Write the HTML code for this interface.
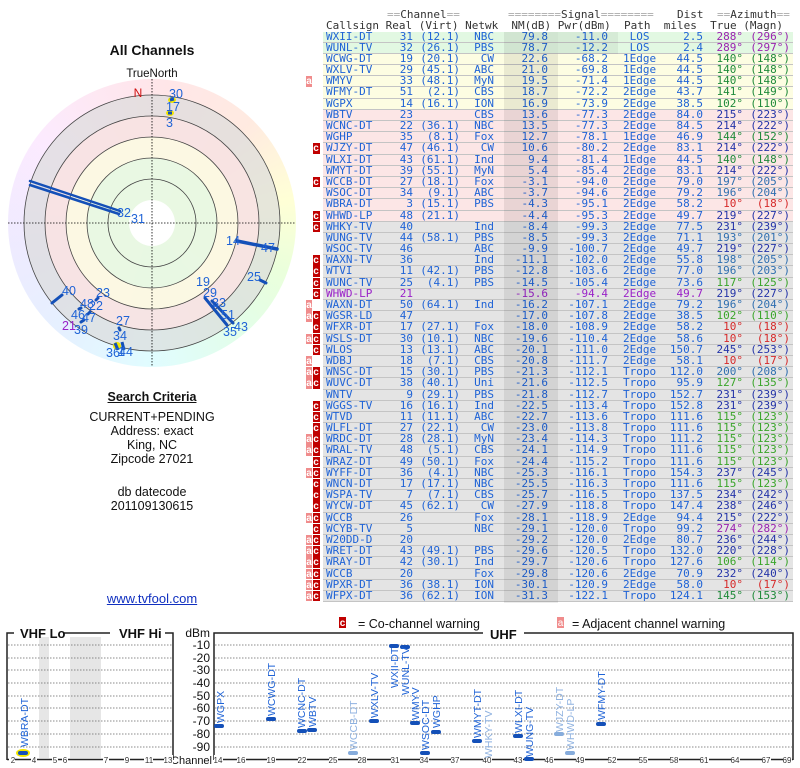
<!DOCTYPE html>
<html><head><meta charset="utf-8"><style>
body{margin:0;width:800px;height:768px;background:#fff;position:relative;overflow:hidden;font-family:"Liberation Sans",sans-serif}
.abs{position:absolute}
.hdr{position:absolute;font:11px "DejaVu Sans Mono",monospace;color:#333;white-space:pre;line-height:11px}
.hdr .q{color:#aaa}
.tbl{position:absolute;left:323px;top:31.5px;width:470px;font:11px "DejaVu Sans Mono",monospace;color:#1f63d6}
.tbl>div{position:relative;height:11.2px;box-sizing:border-box;border-bottom:1px solid #c4c4c4}
.tbl i{font-style:normal;position:absolute;top:0;line-height:10.5px;white-space:nowrap}
.tbl i:nth-of-type(1){left:3px}.tbl i:nth-of-type(2){right:380px}.tbl i:nth-of-type(3){right:333px}
.tbl i:nth-of-type(4){right:299px}.tbl i:nth-of-type(5){right:245px}.tbl i:nth-of-type(6){right:185px}
.tbl i:nth-of-type(7){left:300px}.tbl i:nth-of-type(8){right:90px}.tbl i:nth-of-type(9){right:50px}.tbl i:nth-of-type(10){right:3px}
.gr{background:#e2f8e2}.ye{background:#fdfde2}.pk{background:#fce6e6}.gy{background:#e4e4e4}
.P i:nth-of-type(n+9){color:#9a22b0}.G i:nth-of-type(n+9){color:#1f8a3a}.L i:nth-of-type(n+9){color:#3aa52a}
.N i:nth-of-type(n+9){color:#2434a8}.T i:nth-of-type(n+9){color:#2f6fb0}.R i:nth-of-type(n+9){color:#d62a2a}
.pu i{color:#9a22c8}
.tbl b{position:absolute;top:0;height:10.5px;line-height:10px;font:bold 10px "Liberation Sans",sans-serif;color:#fff;text-align:center}
.tbl b.a{left:-17px;width:6px;background:#f08c8c}.tbl b.c{left:-10.5px;width:7px;background:#c00000}
.lp{position:absolute;width:300px;text-align:center;font-size:12.5px;color:#111}
</style></head><body>

<div class="hdr" style="left:387px;top:9px"><span class="q">==</span>Channel<span class="q">==</span></div>
<div class="hdr" style="left:508px;top:9px"><span class="q">========</span>Signal<span class="q">========</span></div>
<div class="hdr" style="left:677px;top:9px">Dist</div>
<div class="hdr" style="left:717px;top:9px"><span class="q">==</span>Azimuth<span class="q">==</span></div>
<div class="hdr" style="left:326px;top:20px">Callsign Real (Virt) Netwk  NM(dB) Pwr(dBm)  Path  miles  True (Magn)</div>

<div class="tbl">
<div class="gr P"><i>WXII-DT</i><i>31</i><i>(12.1)</i><i>NBC</i><i>79.8</i><i>-11.0</i><i>&nbsp;LOS</i><i>2.5</i><i>288°</i><i>(296°)</i></div>
<div class="gr P"><i>WUNL-TV</i><i>32</i><i>(26.1)</i><i>PBS</i><i>78.7</i><i>-12.2</i><i>&nbsp;LOS</i><i>2.4</i><i>289°</i><i>(297°)</i></div>
<div class="ye G"><i>WCWG-DT</i><i>19</i><i>(20.1)</i><i>CW</i><i>22.6</i><i>-68.2</i><i>1Edge</i><i>44.5</i><i>140°</i><i>(148°)</i></div>
<div class="ye G"><i>WXLV-TV</i><i>29</i><i>(45.1)</i><i>ABC</i><i>21.0</i><i>-69.8</i><i>1Edge</i><i>44.5</i><i>140°</i><i>(148°)</i></div>
<div class="ye G"><b class="a">a</b><i>WMYV</i><i>33</i><i>(48.1)</i><i>MyN</i><i>19.5</i><i>-71.4</i><i>1Edge</i><i>44.5</i><i>140°</i><i>(148°)</i></div>
<div class="ye G"><i>WFMY-DT</i><i>51</i><i>(2.1)</i><i>CBS</i><i>18.7</i><i>-72.2</i><i>2Edge</i><i>43.7</i><i>141°</i><i>(149°)</i></div>
<div class="ye G"><i>WGPX</i><i>14</i><i>(16.1)</i><i>ION</i><i>16.9</i><i>-73.9</i><i>2Edge</i><i>38.5</i><i>102°</i><i>(110°)</i></div>
<div class="pk N"><i>WBTV</i><i>23</i><i></i><i>CBS</i><i>13.6</i><i>-77.3</i><i>2Edge</i><i>84.0</i><i>215°</i><i>(223°)</i></div>
<div class="pk N"><i>WCNC-DT</i><i>22</i><i>(36.1)</i><i>NBC</i><i>13.5</i><i>-77.3</i><i>2Edge</i><i>84.5</i><i>214°</i><i>(222°)</i></div>
<div class="pk G"><i>WGHP</i><i>35</i><i>(8.1)</i><i>Fox</i><i>12.7</i><i>-78.1</i><i>1Edge</i><i>46.9</i><i>144°</i><i>(152°)</i></div>
<div class="pk N"><b class="c">c</b><i>WJZY-DT</i><i>47</i><i>(46.1)</i><i>CW</i><i>10.6</i><i>-80.2</i><i>2Edge</i><i>83.1</i><i>214°</i><i>(222°)</i></div>
<div class="pk G"><i>WLXI-DT</i><i>43</i><i>(61.1)</i><i>Ind</i><i>9.4</i><i>-81.4</i><i>1Edge</i><i>44.5</i><i>140°</i><i>(148°)</i></div>
<div class="pk N"><i>WMYT-DT</i><i>39</i><i>(55.1)</i><i>MyN</i><i>5.4</i><i>-85.4</i><i>2Edge</i><i>83.1</i><i>214°</i><i>(222°)</i></div>
<div class="pk T"><b class="c">c</b><i>WCCB-DT</i><i>27</i><i>(18.1)</i><i>Fox</i><i>-3.1</i><i>-94.0</i><i>2Edge</i><i>79.0</i><i>197°</i><i>(205°)</i></div>
<div class="pk T"><i>WSOC-DT</i><i>34</i><i>(9.1)</i><i>ABC</i><i>-3.7</i><i>-94.6</i><i>2Edge</i><i>79.2</i><i>196°</i><i>(204°)</i></div>
<div class="pk R"><i>WBRA-DT</i><i>3</i><i>(15.1)</i><i>PBS</i><i>-4.3</i><i>-95.1</i><i>2Edge</i><i>58.2</i><i>10°</i><i>(18°)</i></div>
<div class="pk N"><b class="c">c</b><i>WHWD-LP</i><i>48</i><i>(21.1)</i><i></i><i>-4.4</i><i>-95.3</i><i>2Edge</i><i>49.7</i><i>219°</i><i>(227°)</i></div>
<div class="gy N"><b class="c">c</b><i>WHKY-TV</i><i>40</i><i></i><i>Ind</i><i>-8.4</i><i>-99.3</i><i>2Edge</i><i>77.5</i><i>231°</i><i>(239°)</i></div>
<div class="gy T"><i>WUNG-TV</i><i>44</i><i>(58.1)</i><i>PBS</i><i>-8.5</i><i>-99.3</i><i>2Edge</i><i>71.1</i><i>193°</i><i>(201°)</i></div>
<div class="gy N"><i>WSOC-TV</i><i>46</i><i></i><i>ABC</i><i>-9.9</i><i>-100.7</i><i>2Edge</i><i>49.7</i><i>219°</i><i>(227°)</i></div>
<div class="gy T"><b class="c">c</b><i>WAXN-TV</i><i>36</i><i></i><i>Ind</i><i>-11.1</i><i>-102.0</i><i>2Edge</i><i>55.8</i><i>198°</i><i>(205°)</i></div>
<div class="gy T"><b class="c">c</b><i>WTVI</i><i>11</i><i>(42.1)</i><i>PBS</i><i>-12.8</i><i>-103.6</i><i>2Edge</i><i>77.0</i><i>196°</i><i>(203°)</i></div>
<div class="gy L"><b class="c">c</b><i>WUNC-TV</i><i>25</i><i>(4.1)</i><i>PBS</i><i>-14.5</i><i>-105.4</i><i>2Edge</i><i>73.6</i><i>117°</i><i>(125°)</i></div>
<div class="gy pu N"><b class="c">c</b><i>WHWD-LP</i><i>21</i><i></i><i></i><i>-15.6</i><i>-94.4</i><i>2Edge</i><i>49.7</i><i>219°</i><i>(227°)</i></div>
<div class="gy T"><b class="a">a</b><i>WAXN-DT</i><i>50</i><i>(64.1)</i><i>Ind</i><i>-16.2</i><i>-107.1</i><i>2Edge</i><i>79.2</i><i>196°</i><i>(204°)</i></div>
<div class="gy L"><b class="a">a</b><b class="c">c</b><i>WGSR-LD</i><i>47</i><i></i><i></i><i>-17.0</i><i>-107.8</i><i>2Edge</i><i>38.5</i><i>102°</i><i>(110°)</i></div>
<div class="gy R"><b class="c">c</b><i>WFXR-DT</i><i>17</i><i>(27.1)</i><i>Fox</i><i>-18.0</i><i>-108.9</i><i>2Edge</i><i>58.2</i><i>10°</i><i>(18°)</i></div>
<div class="gy R"><b class="a">a</b><b class="c">c</b><i>WSLS-DT</i><i>30</i><i>(10.1)</i><i>NBC</i><i>-19.6</i><i>-110.4</i><i>2Edge</i><i>58.6</i><i>10°</i><i>(18°)</i></div>
<div class="gy N"><b class="c">c</b><i>WLOS</i><i>13</i><i>(13.1)</i><i>ABC</i><i>-20.1</i><i>-111.0</i><i>2Edge</i><i>150.7</i><i>245°</i><i>(253°)</i></div>
<div class="gy R"><b class="a">a</b><i>WDBJ</i><i>18</i><i>(7.1)</i><i>CBS</i><i>-20.8</i><i>-111.7</i><i>2Edge</i><i>58.1</i><i>10°</i><i>(17°)</i></div>
<div class="gy T"><b class="a">a</b><b class="c">c</b><i>WNSC-DT</i><i>15</i><i>(30.1)</i><i>PBS</i><i>-21.3</i><i>-112.1</i><i>Tropo</i><i>112.0</i><i>200°</i><i>(208°)</i></div>
<div class="gy L"><b class="a">a</b><b class="c">c</b><i>WUVC-DT</i><i>38</i><i>(40.1)</i><i>Uni</i><i>-21.6</i><i>-112.5</i><i>Tropo</i><i>95.9</i><i>127°</i><i>(135°)</i></div>
<div class="gy N"><i>WNTV</i><i>9</i><i>(29.1)</i><i>PBS</i><i>-21.8</i><i>-112.7</i><i>Tropo</i><i>152.7</i><i>231°</i><i>(239°)</i></div>
<div class="gy N"><b class="c">c</b><i>WGGS-TV</i><i>16</i><i>(16.1)</i><i>Ind</i><i>-22.5</i><i>-113.4</i><i>Tropo</i><i>152.8</i><i>231°</i><i>(239°)</i></div>
<div class="gy L"><b class="c">c</b><i>WTVD</i><i>11</i><i>(11.1)</i><i>ABC</i><i>-22.7</i><i>-113.6</i><i>Tropo</i><i>111.6</i><i>115°</i><i>(123°)</i></div>
<div class="gy L"><b class="c">c</b><i>WLFL-DT</i><i>27</i><i>(22.1)</i><i>CW</i><i>-23.0</i><i>-113.8</i><i>Tropo</i><i>111.6</i><i>115°</i><i>(123°)</i></div>
<div class="gy L"><b class="a">a</b><b class="c">c</b><i>WRDC-DT</i><i>28</i><i>(28.1)</i><i>MyN</i><i>-23.4</i><i>-114.3</i><i>Tropo</i><i>111.2</i><i>115°</i><i>(123°)</i></div>
<div class="gy L"><b class="a">a</b><b class="c">c</b><i>WRAL-TV</i><i>48</i><i>(5.1)</i><i>CBS</i><i>-24.1</i><i>-114.9</i><i>Tropo</i><i>111.6</i><i>115°</i><i>(123°)</i></div>
<div class="gy L"><b class="c">c</b><i>WRAZ-DT</i><i>49</i><i>(50.1)</i><i>Fox</i><i>-24.4</i><i>-115.2</i><i>Tropo</i><i>111.6</i><i>115°</i><i>(123°)</i></div>
<div class="gy N"><b class="a">a</b><b class="c">c</b><i>WYFF-DT</i><i>36</i><i>(4.1)</i><i>NBC</i><i>-25.3</i><i>-116.1</i><i>Tropo</i><i>154.3</i><i>237°</i><i>(245°)</i></div>
<div class="gy L"><b class="c">c</b><i>WNCN-DT</i><i>17</i><i>(17.1)</i><i>NBC</i><i>-25.5</i><i>-116.3</i><i>Tropo</i><i>111.6</i><i>115°</i><i>(123°)</i></div>
<div class="gy N"><b class="c">c</b><i>WSPA-TV</i><i>7</i><i>(7.1)</i><i>CBS</i><i>-25.7</i><i>-116.5</i><i>Tropo</i><i>137.5</i><i>234°</i><i>(242°)</i></div>
<div class="gy N"><b class="c">c</b><i>WYCW-DT</i><i>45</i><i>(62.1)</i><i>CW</i><i>-27.9</i><i>-118.8</i><i>Tropo</i><i>147.4</i><i>238°</i><i>(246°)</i></div>
<div class="gy N"><b class="a">a</b><b class="c">c</b><i>WCCB</i><i>26</i><i></i><i>Fox</i><i>-28.1</i><i>-118.9</i><i>2Edge</i><i>94.4</i><i>215°</i><i>(222°)</i></div>
<div class="gy P"><b class="c">c</b><i>WCYB-TV</i><i>5</i><i></i><i>NBC</i><i>-29.1</i><i>-120.0</i><i>Tropo</i><i>99.2</i><i>274°</i><i>(282°)</i></div>
<div class="gy N"><b class="a">a</b><b class="c">c</b><i>W20DD-D</i><i>20</i><i></i><i></i><i>-29.2</i><i>-120.0</i><i>2Edge</i><i>80.7</i><i>236°</i><i>(244°)</i></div>
<div class="gy N"><b class="a">a</b><b class="c">c</b><i>WRET-DT</i><i>43</i><i>(49.1)</i><i>PBS</i><i>-29.6</i><i>-120.5</i><i>Tropo</i><i>132.0</i><i>220°</i><i>(228°)</i></div>
<div class="gy L"><b class="a">a</b><b class="c">c</b><i>WRAY-DT</i><i>42</i><i>(30.1)</i><i>Ind</i><i>-29.7</i><i>-120.6</i><i>Tropo</i><i>127.6</i><i>106°</i><i>(114°)</i></div>
<div class="gy N"><b class="a">a</b><b class="c">c</b><i>WCCB</i><i>20</i><i></i><i>Fox</i><i>-29.8</i><i>-120.6</i><i>2Edge</i><i>70.9</i><i>232°</i><i>(240°)</i></div>
<div class="gy R"><b class="a">a</b><b class="c">c</b><i>WPXR-DT</i><i>36</i><i>(38.1)</i><i>ION</i><i>-30.1</i><i>-120.9</i><i>2Edge</i><i>58.0</i><i>10°</i><i>(17°)</i></div>
<div class="gy G"><b class="a">a</b><b class="c">c</b><i>WFPX-DT</i><i>36</i><i>(62.1)</i><i>ION</i><i>-31.3</i><i>-122.1</i><i>Tropo</i><i>124.1</i><i>145°</i><i>(153°)</i></div>
</div>
<div class="abs" style="left:504px;top:31.5px;width:54px;height:571px;background:rgba(0,0,0,.075)"></div>
<div class="abs" style="left:558px;top:31.5px;width:60px;height:22.4px;background:rgba(0,0,0,.05)"></div>

<div class="lp" style="left:2px;top:42px;font-weight:bold;font-size:14px">All Channels</div>
<div class="lp" style="left:2px;top:68px;font-size:11.5px">TrueNorth</div>
<div class="abs" style="left:8px;top:79px;width:288px;height:288px;border-radius:50%;background:conic-gradient(hsl(350,100%,95%),hsl(20,100%,94%) 45deg,hsl(60,100%,92%) 80deg,hsl(95,100%,93%) 110deg,hsl(140,90%,94%) 145deg,hsl(185,100%,94%) 180deg,hsl(215,100%,95%) 220deg,hsl(250,100%,96%) 260deg,hsl(290,100%,96%) 305deg,hsl(350,100%,95%))"></div>
<svg class="abs" style="left:0;top:0" width="800" height="768">
<g transform="translate(152,223)">
<circle r="128" fill="#dcdcdc" fill-opacity=".7"/>
<circle r="107" fill="#fde4e4" fill-opacity=".8"/>
<circle r="86" fill="#fcfce2" fill-opacity=".8"/>
<circle r="65" fill="#e4f8e2" fill-opacity=".8"/>
<circle r="23" fill="#fff"/>
<g fill="none" stroke="#444" stroke-width="0.8">
<circle r="128"/><circle r="107"/><circle r="86"/><circle r="65"/><circle r="44"/></g>
<g stroke="#000" stroke-width="0.8" stroke-dasharray="1.5,1.5"><line x1="-144" y1="0" x2="144" y2="0"/><line x1="0" y1="-144" x2="0" y2="144"/></g>
</g>
<text x="138" y="97" fill="#d01010" font-size="12" text-anchor="middle">N</text>
<g stroke="#1450b8" stroke-linecap="round">
<line x1="120" y1="211" x2="30" y2="181" stroke-width="2.5"/><line x1="119" y1="214" x2="30" y2="185" stroke-width="2.5"/>
<line x1="237" y1="241" x2="277" y2="249" stroke-width="3.5"/>
<line x1="260" y1="280" x2="266" y2="283" stroke-width="3"/>
<line x1="205" y1="298" x2="227" y2="325" stroke-width="3"/><line x1="212" y1="301" x2="233" y2="323" stroke-width="3"/>
<line x1="52" y1="303" x2="62" y2="295" stroke-width="3"/>
<line x1="96" y1="300" x2="98" y2="298" stroke-width="3"/><line x1="79" y1="309" x2="81" y2="308" stroke-width="3"/>
<line x1="88" y1="314" x2="90" y2="312" stroke-width="3"/><line x1="81" y1="322" x2="84" y2="320" stroke-width="3"/>
<line x1="119" y1="328" x2="120" y2="330" stroke-width="3"/>
</g>
<ellipse cx="172" cy="100" rx="4" ry="3" fill="#f2e600"/><ellipse cx="170" cy="113" rx="4" ry="3" fill="#f2e600"/>
<ellipse cx="117" cy="346" rx="4" ry="4" fill="#f2e600"/>
<g stroke="#1450b8" stroke-width="3"><line x1="170" y1="100" x2="174" y2="99"/><line x1="168" y1="113" x2="172" y2="113"/><line x1="115" y1="343" x2="118" y2="350"/><line x1="122" y1="342" x2="124" y2="350"/></g>
<g fill="#1f63d6" font-size="12.5" font-family="Liberation Sans,sans-serif">
<text x="169" y="98">30</text><text x="166" y="111">17</text><text x="166" y="127">3</text>
<text x="117" y="217">32</text><text x="131" y="223">31</text>
<text x="226" y="245">14</text><text x="261" y="252">47</text><text x="247" y="281">25</text>
<text x="196" y="286">19</text><text x="203" y="297">29</text><text x="212" y="307">33</text><text x="221" y="319">51</text>
<text x="223" y="336">35</text><text x="234" y="331">43</text>
<text x="62" y="295">40</text><text x="96" y="297">23</text><text x="80" y="308">48</text><text x="89" y="310">22</text>
<text x="71" y="319">46</text><text x="82" y="322">47</text><text x="74" y="334">39</text>
<text x="116" y="325">27</text><text x="113" y="340">34</text><text x="106" y="357">36</text><text x="118" y="356">1</text><text x="119" y="356">44</text>
</g>
<text x="62" y="330" fill="#9a22c8" font-size="12.5">21</text>

<g font-family="Liberation Sans,sans-serif">
<rect x="339" y="617" width="7" height="11" fill="#c00000"/><text x="342.5" y="626" fill="#fff" font-size="10" font-weight="bold" text-anchor="middle">c</text>
<text x="358" y="628" font-size="12.5" fill="#111">= Co-channel warning</text>
<rect x="557" y="617" width="7" height="11" fill="#f08c8c"/><text x="560.5" y="626" fill="#fff" font-size="10" text-anchor="middle">a</text>
<text x="572" y="628" font-size="12.5" fill="#111">= Adjacent channel warning</text>

<rect x="39" y="637" width="10" height="121" fill="#e6e6e6"/><rect x="70" y="637" width="31" height="121" fill="#e6e6e6"/>
<g stroke="#666" stroke-width="0.8" stroke-dasharray="1.5,1.5">
<line x1="8" x2="172" y1="645" y2="645"/><line x1="8" x2="172" y1="658" y2="658"/><line x1="8" x2="172" y1="670" y2="670"/>
<line x1="8" x2="172" y1="683" y2="683"/><line x1="8" x2="172" y1="696" y2="696"/><line x1="8" x2="172" y1="708" y2="708"/>
<line x1="8" x2="172" y1="721" y2="721"/><line x1="8" x2="172" y1="734" y2="734"/><line x1="8" x2="172" y1="747" y2="747"/>
<line x1="215" x2="792" y1="645" y2="645"/><line x1="215" x2="792" y1="658" y2="658"/><line x1="215" x2="792" y1="670" y2="670"/>
<line x1="215" x2="792" y1="683" y2="683"/><line x1="215" x2="792" y1="696" y2="696"/><line x1="215" x2="792" y1="708" y2="708"/>
<line x1="215" x2="792" y1="721" y2="721"/><line x1="215" x2="792" y1="734" y2="734"/><line x1="215" x2="792" y1="747" y2="747"/>
</g>
<g stroke="#222" stroke-width="1.5" fill="none">
<polyline points="14,633 7,633 7,760"/><line x1="64" y1="633" x2="110" y2="633"/><polyline points="165,633 173,633 173,760"/>
<polyline points="483,633 214,633 214,760"/><polyline points="524,633 793,633 793,760"/>
<line x1="7" y1="759.5" x2="173" y2="759.5"/><line x1="214" y1="759.5" x2="793" y2="759.5"/>
</g>
<text x="20" y="638" font-size="13" font-weight="bold" fill="#111">VHF Lo</text>
<text x="119" y="638" font-size="13" font-weight="bold" fill="#111">VHF Hi</text>
<text x="490" y="639" font-size="13" font-weight="bold" fill="#111">UHF</text>
<g font-size="12" fill="#111" text-anchor="end">
<text x="210" y="637">dBm</text><text x="210" y="649">-10</text><text x="210" y="662">-20</text><text x="210" y="674">-30</text>
<text x="210" y="687">-40</text><text x="210" y="700">-50</text><text x="210" y="712">-60</text><text x="210" y="725">-70</text>
<text x="210" y="738">-80</text><text x="210" y="751">-90</text><text x="212" y="764" font-size="11">Channel</text>
</g>
<g font-size="8" fill="#333" text-anchor="middle">
<g fill="#fff" stroke="none"><rect x="9" y="755" width="6" height="9"/><rect x="31" y="755" width="6" height="9"/><rect x="52" y="755" width="6" height="9"/><rect x="62" y="755" width="6" height="9"/><rect x="103" y="755" width="6" height="9"/><rect x="124" y="755" width="6" height="9"/><rect x="144" y="755" width="9" height="9"/><rect x="164" y="755" width="9" height="9"/></g>
<text x="13" y="763">2</text><text x="34" y="763">4</text><text x="55" y="763">5</text><text x="65" y="763">6</text><text x="106" y="763">7</text><text x="127" y="763">9</text><text x="149" y="763">11</text><text x="168" y="763">13</text>
<g fill="#fff"><rect x="214" y="755" width="9" height="9"/><rect x="237" y="755" width="9" height="9"/><rect x="267" y="755" width="9" height="9"/><rect x="298" y="755" width="9" height="9"/><rect x="329" y="755" width="9" height="9"/><rect x="358" y="755" width="9" height="9"/><rect x="391" y="755" width="9" height="9"/><rect x="420" y="755" width="9" height="9"/><rect x="451" y="755" width="9" height="9"/><rect x="483" y="755" width="9" height="9"/><rect x="514" y="755" width="9" height="9"/><rect x="545" y="755" width="9" height="9"/><rect x="576" y="755" width="9" height="9"/><rect x="608" y="755" width="9" height="9"/><rect x="639" y="755" width="9" height="9"/><rect x="670" y="755" width="9" height="9"/><rect x="700" y="755" width="9" height="9"/><rect x="731" y="755" width="9" height="9"/><rect x="762" y="755" width="9" height="9"/><rect x="783" y="755" width="9" height="9"/></g>
<text x="218" y="763">14</text><text x="241" y="763">16</text><text x="271" y="763">19</text><text x="302" y="763">22</text><text x="333" y="763">25</text><text x="362" y="763">28</text><text x="395" y="763">31</text><text x="424" y="763">34</text><text x="455" y="763">37</text><text x="487" y="763">40</text><text x="518" y="763">43</text><text x="549" y="763">46</text><text x="580" y="763">49</text><text x="612" y="763">52</text><text x="643" y="763">55</text><text x="674" y="763">58</text><text x="704" y="763">61</text><text x="735" y="763">64</text><text x="766" y="763">67</text><text x="787" y="763">69</text>
</g>
<ellipse cx="23" cy="753" rx="7" ry="4" fill="#f2e600"/>
<g fill="#1450b8">
<rect x="18" y="751" width="10" height="4" rx="2"/><rect x="214" y="724" width="10" height="4" rx="2"/><rect x="266" y="717" width="10" height="4" rx="2"/>
<rect x="297" y="729" width="10" height="4" rx="2"/><rect x="307" y="728" width="10" height="4" rx="2"/><rect x="369" y="719" width="10" height="4" rx="2"/>
<rect x="389" y="644" width="10" height="4" rx="2"/><rect x="400" y="645" width="10" height="4" rx="2"/><rect x="410" y="721" width="10" height="4" rx="2"/>
<rect x="420" y="751" width="10" height="4" rx="2"/><rect x="431" y="730" width="10" height="4" rx="2"/><rect x="472" y="739" width="10" height="4" rx="2"/>
<rect x="513" y="734" width="10" height="4" rx="2"/><rect x="524" y="757" width="10" height="4" rx="2"/><rect x="596" y="722" width="10" height="4" rx="2"/>
</g>
<g fill="#86acdc"><rect x="348" y="751" width="10" height="4" rx="2"/><rect x="554" y="732" width="10" height="4" rx="2"/><rect x="565" y="751" width="10" height="4" rx="2"/></g>
<g font-size="10.5" fill="#1f63d6">
<text transform="translate(28,747) rotate(-90)">WBRA-DT</text>
<text transform="translate(224,723) rotate(-90)">WGPX</text>
<text transform="translate(275,716) rotate(-90)">WCWG-DT</text>
<text transform="translate(305,728) rotate(-90)">WCNC-DT</text>
<text transform="translate(316,727) rotate(-90)">WBTV</text>
<text transform="translate(378,718) rotate(-90)">WXLV-TV</text>
<text transform="translate(398,688) rotate(-90)">WXII-DT</text>
<text transform="translate(409,695) rotate(-90)">WUNL-TV</text>
<text transform="translate(419,720) rotate(-90)">WMYV</text>
<text transform="translate(429,750) rotate(-90)">WSOC-DT</text>
<text transform="translate(440,728) rotate(-90)">WGHP</text>
<text transform="translate(481,738) rotate(-90)">WMYT-DT</text>
<text transform="translate(522,733) rotate(-90)">WLXI-DT</text>
<text transform="translate(533,757) rotate(-90)">WUNG-TV</text>
<text transform="translate(605,720) rotate(-90)">WFMY-DT</text>
</g>
<g font-size="10.5" fill="#8fb2e0">
<text transform="translate(357,750) rotate(-90)">WCCB-DT</text>
<text transform="translate(492,758) rotate(-90)">WHKY-TV</text>
<text transform="translate(563,732) rotate(-90)">WJZY-DT</text>
<text transform="translate(574,750) rotate(-90)">WHWD-LP</text>
</g>
</g>
</svg>
<div class="lp" style="left:2px;top:390px;font-weight:bold;text-decoration:underline">Search Criteria</div>
<div class="lp" style="left:2px;top:410px">CURRENT+PENDING</div>
<div class="lp" style="left:2px;top:424px">Address: exact</div>
<div class="lp" style="left:2px;top:438px">King, NC</div>
<div class="lp" style="left:2px;top:452px">Zipcode 27021</div>
<div class="lp" style="left:2px;top:485px">db datecode</div>
<div class="lp" style="left:2px;top:499px">201109130615</div>
<div class="lp" style="left:2px;top:591px;color:#1030c0;text-decoration:underline;font-size:13px">www.tvfool.com</div>
</body></html>
